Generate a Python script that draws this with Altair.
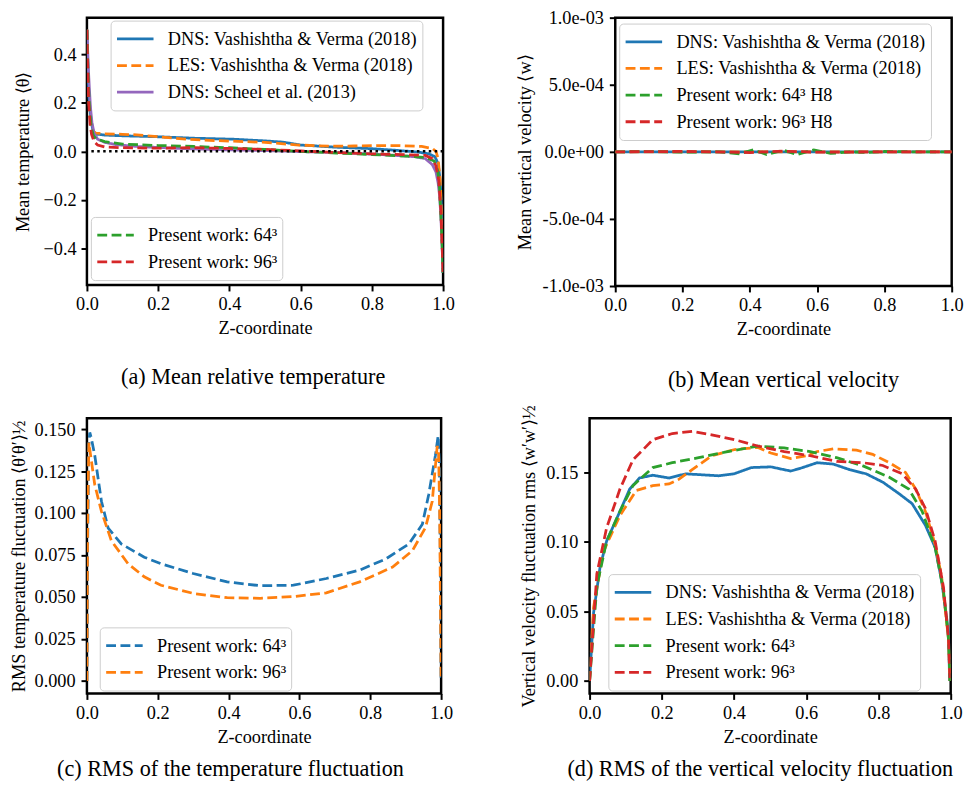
import altair as alt
import pandas as pd

FONT = "Liberation Serif"
FS = 18.5
LEG_FS = 18.5
CAP_FS = 22.5
LW = 2.8
DASH = [10, 4.5]
SOLID = [1, 0]
BLUE, ORANGE, GREEN, RED, PURPLE = "#1f77b4", "#ff7f0e", "#2ca02c", "#d62728", "#9467bd"

# ---------------- tick values / labels ----------------
x_ticks = [0.0, 0.2, 0.4, 0.6, 0.8, 1.0]
a_yticks = [-0.4, -0.2, 0.0, 0.2, 0.4]
b_yticks = [-1e-3, -5e-4, 0.0, 5e-4, 1e-3]
b_ylabels = ["-1.0e-03", "-5.0e-04", "0.0e+00", "5.0e-04", "1.0e-03"]
c_yticks = [0.0, 0.025, 0.05, 0.075, 0.1, 0.125, 0.15]
d_yticks = [0.0, 0.05, 0.10, 0.15]

# ---------------- series names ----------------
DNS = "DNS: Vashishtha & Verma (2018)"
LES = "LES: Vashishtha & Verma (2018)"
SCH = "DNS: Scheel et al. (2013)"
P64 = "Present work: 64³"
P96 = "Present work: 96³"
P64H = "Present work: 64³ H8"
P96H = "Present work: 96³ H8"

# ---------------- (a) mean temperature ----------------
a_dns_z = [0.0, 0.003, 0.006, 0.012, 0.018, 0.025, 0.05, 0.1, 0.2, 0.3, 0.41, 0.5, 0.55, 0.6, 0.7, 0.8, 0.87, 0.93, 0.96, 0.977, 0.986, 0.992, 0.996, 1.0]
a_dns_v = [0.5, 0.33, 0.22, 0.12, 0.08, 0.071, 0.067, 0.064, 0.06, 0.054, 0.05, 0.043, 0.038, 0.026, 0.017, 0.011, 0.004, -0.003, -0.01, -0.022, -0.05, -0.12, -0.25, -0.5]
a_les_z = [0.0, 0.003, 0.006, 0.01, 0.015, 0.025, 0.05, 0.1, 0.14, 0.2, 0.276, 0.367, 0.5, 0.595, 0.686, 0.75, 0.82, 0.87, 0.94, 0.97, 0.98, 0.986, 0.992, 0.996, 1.0]
a_les_v = [0.5, 0.3, 0.2, 0.12, 0.085, 0.075, 0.072, 0.07, 0.068, 0.06, 0.05, 0.044, 0.037, 0.026, 0.021, 0.022, 0.024, 0.024, 0.02, 0.012, 0.0, -0.03, -0.12, -0.28, -0.5]
a_sch_z = [0.0, 0.002, 0.004, 0.007, 0.01, 0.014, 0.02, 0.03, 0.05, 0.08, 0.14, 0.276, 0.4, 0.5, 0.6, 0.724, 0.86, 0.92, 0.95, 0.97, 0.98, 0.986, 0.99, 0.993, 0.996, 0.998, 1.0]
a_sch_v = [0.5, 0.42, 0.34, 0.255, 0.18, 0.12, 0.075, 0.05, 0.037, 0.028, 0.02, 0.011, 0.006, 0.003, -0.001, -0.006, -0.016, -0.022, -0.03, -0.055, -0.085, -0.13, -0.18, -0.25, -0.34, -0.42, -0.5]
a_p64_z = [0.0, 0.003, 0.007, 0.012, 0.018, 0.025, 0.05, 0.1, 0.2, 0.3, 0.4, 0.5, 0.6, 0.7, 0.8, 0.9, 0.95, 0.975, 0.985, 0.99, 0.995, 1.0]
a_p64_v = [0.5, 0.33, 0.18, 0.1, 0.065, 0.052, 0.04, 0.03, 0.024, 0.02, 0.015, 0.008, 0.0, -0.007, -0.013, -0.02, -0.025, -0.04, -0.08, -0.15, -0.3, -0.5]
a_p96_z = [0.0, 0.002, 0.005, 0.009, 0.013, 0.02, 0.03, 0.05, 0.1, 0.2, 0.3, 0.4, 0.5, 0.6, 0.7, 0.8, 0.9, 0.95, 0.97, 0.98, 0.988, 0.994, 1.0]
a_p96_v = [0.5, 0.35, 0.2, 0.11, 0.07, 0.04, 0.026, 0.018, 0.015, 0.013, 0.015, 0.012, 0.008, 0.002, -0.005, -0.01, -0.014, -0.017, -0.03, -0.06, -0.12, -0.25, -0.5]

# ---------------- (b) mean vertical velocity ----------------
b_dns_z = [0.0, 0.25, 0.5, 0.75, 1.0]
b_dns_v = [0.0, 0.0, 0.0, 0.0, 0.0]
b_les_z = [0.0, 0.25, 0.5, 0.75, 1.0]
b_les_v = [0.0, 0.0, 0.0, 0.0, 0.0]
b_p64_z = [0.0, 0.1, 0.2, 0.31, 0.37, 0.41, 0.45, 0.5, 0.54, 0.59, 0.64, 0.7, 0.75, 0.8, 0.9, 1.0]
b_p64_v = [0.0, 2e-6, -2e-6, 0.0, -1.5e-5, 1.5e-5, -2e-5, 1.2e-5, -2e-5, 1.5e-5, -1.2e-5, 0.0, -5e-6, 3e-6, 0.0, 0.0]
b_p96_z = [0.0, 0.2, 0.4, 0.5, 0.6, 0.8, 1.0]
b_p96_v = [0.0, 3e-6, -5e-6, 5e-6, -3e-6, 0.0, 0.0]

# ---------------- (c) rms temperature fluctuation ----------------
c_p64_z = [0.0, 0.002, 0.005, 0.008, 0.012, 0.022, 0.041, 0.06, 0.097, 0.162, 0.209, 0.30, 0.396, 0.489, 0.583, 0.676, 0.77, 0.844, 0.909, 0.947, 0.965, 0.984, 0.9916, 0.995, 0.998, 1.0]
c_p64_v = [0.0, 0.08, 0.14, 0.148, 0.145, 0.1345, 0.107, 0.091, 0.0816, 0.0737, 0.0698, 0.064, 0.059, 0.0567, 0.057, 0.061, 0.066, 0.0727, 0.0816, 0.0933, 0.111, 0.1345, 0.146, 0.13, 0.07, 0.0]
c_p96_z = [0.0, 0.002, 0.0056, 0.01, 0.022, 0.041, 0.069, 0.116, 0.162, 0.209, 0.303, 0.396, 0.489, 0.583, 0.676, 0.77, 0.863, 0.919, 0.956, 0.975, 0.989, 0.993, 0.996, 0.998, 1.0]
c_p96_v = [0.0, 0.1, 0.142, 0.135, 0.117, 0.101, 0.0835, 0.0698, 0.062, 0.057, 0.052, 0.0496, 0.0492, 0.0502, 0.0525, 0.059, 0.0678, 0.0776, 0.0914, 0.107, 0.140, 0.135, 0.1, 0.05, 0.0]

# ---------------- (d) rms vertical velocity fluctuation ----------------
d_dns_z = [0.0, 0.011, 0.029, 0.047, 0.084, 0.111, 0.138, 0.175, 0.22, 0.266, 0.357, 0.40, 0.448, 0.502, 0.557, 0.584, 0.63, 0.675, 0.72, 0.766, 0.812, 0.857, 0.893, 0.93, 0.957, 0.975, 0.994, 0.997]
d_dns_v = [0.0, 0.049, 0.082, 0.1005, 0.122, 0.138, 0.146, 0.148, 0.146, 0.149, 0.1476, 0.149, 0.1535, 0.154, 0.151, 0.153, 0.157, 0.156, 0.152, 0.149, 0.143, 0.1347, 0.1276, 0.112, 0.096, 0.072, 0.035, 0.0]
d_les_z = [0.0, 0.011, 0.038, 0.084, 0.129, 0.175, 0.22, 0.247, 0.284, 0.338, 0.402, 0.466, 0.502, 0.557, 0.602, 0.63, 0.675, 0.739, 0.784, 0.83, 0.875, 0.903, 0.93, 0.957, 0.975, 0.994, 0.998]
d_les_v = [0.0, 0.053, 0.093, 0.119, 0.137, 0.1405, 0.1417, 0.145, 0.152, 0.162, 0.1665, 0.168, 0.164, 0.160, 0.162, 0.165, 0.167, 0.166, 0.163, 0.157, 0.150, 0.138, 0.122, 0.098, 0.075, 0.030, 0.0]
d_p64_z = [0.0, 0.02, 0.047, 0.084, 0.12, 0.175, 0.229, 0.302, 0.375, 0.466, 0.539, 0.611, 0.684, 0.757, 0.83, 0.884, 0.921, 0.957, 0.98, 0.994, 0.998]
d_p64_v = [0.0, 0.068, 0.1005, 0.122, 0.1405, 0.1535, 0.157, 0.1606, 0.1646, 0.169, 0.1676, 0.165, 0.1606, 0.1547, 0.1465, 0.138, 0.122, 0.096, 0.065, 0.03, 0.0]
d_p96_z = [0.0, 0.02, 0.047, 0.084, 0.12, 0.175, 0.229, 0.284, 0.338, 0.402, 0.466, 0.539, 0.611, 0.684, 0.757, 0.812, 0.866, 0.903, 0.93, 0.957, 0.98, 0.994, 0.998]
d_p96_v = [0.0, 0.077, 0.11, 0.138, 0.159, 0.1735, 0.178, 0.1795, 0.177, 0.1735, 0.169, 0.165, 0.162, 0.158, 0.157, 0.155, 0.149, 0.138, 0.124, 0.1005, 0.0675, 0.03, 0.0]

# ---------------- captions ----------------
cap_a = "(a) Mean relative temperature"
cap_b = "(b) Mean vertical velocity"
cap_c = "(c) RMS of the temperature fluctuation"
cap_d = "(d) RMS of the vertical velocity fluctuation"

LEG_STYLE = dict(
    symbolType="stroke", symbolSize=1369, symbolStrokeWidth=LW,
    labelFont=FONT, labelFontSize=LEG_FS, labelColor="black", labelLimit=500,
    labelOffset=13, rowPadding=0, padding=5, clipHeight=27,
    fillColor="rgba(255,255,255,0.8)", strokeColor="#cccccc", cornerRadius=4,
)


def long(pairs):
    rows = []
    for name, zs, vs in pairs:
        for z, v in zip(zs, vs):
            rows.append({"z": z, "v": v, "series": name})
    return pd.DataFrame(rows)


def legend(x, y):
    return alt.Legend(title=None, orient="none", legendX=x, legendY=y, **LEG_STYLE)


def xenc():
    return alt.X(
        "z:Q", scale=alt.Scale(domain=[0, 1], nice=False, zero=False),
        axis=alt.Axis(values=x_ticks, format=".1f", title="Z-coordinate", labelFlush=False,
                      labelPadding=4, titlePadding=6, labelFont=FONT, titleFont=FONT),
    )


def yenc(domain, axis):
    return alt.Y("v:Q", scale=alt.Scale(domain=domain, nice=False, zero=False), axis=axis)


def lines(df, names, colors, dashes, leg, y):
    return alt.Chart(df).mark_line(strokeWidth=LW, clip=True).encode(
        x=xenc(), y=y,
        color=alt.Color("series:N", scale=alt.Scale(domain=names, range=colors), legend=leg),
        strokeDash=alt.StrokeDash("series:N", scale=alt.Scale(domain=names, range=dashes), legend=leg),
    )


def caption(text, dx, offset):
    return alt.TitleParams(text=text, orient="bottom", anchor="middle", frame="group", dx=dx,
                           offset=offset, font=FONT, fontSize=CAP_FS, fontWeight="normal", color="black")


IND = dict(color="independent", strokeDash="independent")

# ---- panel a ----
ya = yenc([-0.55, 0.55], alt.Axis(values=a_yticks, format=".1f", title="Mean temperature ⟨θ⟩",
                                   minExtent=47, maxExtent=47, labelPadding=5, titlePadding=8,
                                   labelFont=FONT, titleFont=FONT))
a_ref = lines(long([(DNS, a_dns_z, a_dns_v), (LES, a_les_z, a_les_v), (SCH, a_sch_z, a_sch_v)]),
              [DNS, LES, SCH], [BLUE, ORANGE, PURPLE], [SOLID, DASH, SOLID], legend(24, 3), ya)
a_pw = lines(long([(P64, a_p64_z, a_p64_v), (P96, a_p96_z, a_p96_v)]),
             [P64, P96], [GREEN, RED], [DASH, DASH], legend(4, 202), ya)
a_zero = alt.Chart(pd.DataFrame({"v": [0.0]})).mark_rule(color="black", strokeWidth=2.5, strokeDash=[2.5, 3.5]).encode(y="v:Q")
panel_a = alt.layer(a_ref, a_pw, a_zero).resolve_scale(**IND).properties(
    width=361, height=271, title=caption(cap_a, -12, 29))

# ---- panel b ----
b_expr = " : ".join(f"abs(datum.value - ({v})) < 1e-12 ? '{l}'" for v, l in zip(b_yticks, b_ylabels)) + " : ''"
yb = yenc([-1e-3, 1e-3], alt.Axis(values=b_yticks, labelExpr=b_expr, title="Mean vertical velocity ⟨w⟩",
                                   minExtent=73, maxExtent=73, labelPadding=6, titlePadding=9,
                                   labelFont=FONT, titleFont=FONT))
panel_b = lines(long([(DNS, b_dns_z, b_dns_v), (LES, b_les_z, b_les_v), (P64H, b_p64_z, b_p64_v), (P96H, b_p96_z, b_p96_v)]),
                [DNS, LES, P64H, P96H], [BLUE, ORANGE, GREEN, RED], [SOLID, DASH, DASH, DASH], legend(4, 6), yb).properties(
    width=341, height=272, title=caption(cap_b, 0, 31))

# ---- panel c ----
yc = yenc([-0.0075, 0.1565], alt.Axis(values=c_yticks, format=".3f", title="RMS temperature fluctuation ⟨θ′θ′⟩½",
                                       minExtent=52, maxExtent=52, labelPadding=6, titlePadding=7,
                                       labelFont=FONT, titleFont=FONT))
panel_c = lines(long([(P64, c_p64_z, c_p64_v), (P96, c_p96_z, c_p96_v)]),
                [P64, P96], [BLUE, ORANGE], [DASH, DASH], legend(13, 212), yc).properties(
    width=359, height=279, title=caption(cap_c, -34, 13))

# ---- panel d ----
yd = yenc([-0.009, 0.189], alt.Axis(values=d_yticks, format=".2f", title="Vertical velocity fluctuation rms ⟨w′w′⟩½",
                                     minExtent=44, maxExtent=44, labelPadding=6, titlePadding=8,
                                     labelFont=FONT, titleFont=FONT))
panel_d = lines(long([(DNS, d_dns_z, d_dns_v), (LES, d_les_z, d_les_v), (P64, d_p64_z, d_p64_v), (P96, d_p96_z, d_p96_v)]),
                [DNS, LES, P64, P96], [BLUE, ORANGE, GREEN, RED], [SOLID, DASH, DASH, DASH], legend(19, 158), yd).properties(
    width=366, height=279, title=caption(cap_d, -10, 13))

row1 = alt.hconcat(panel_a, panel_b, spacing=58.5, bounds="full").resolve_scale(**IND)
row2 = alt.hconcat(panel_c, panel_d, spacing=150.5, bounds="flush").resolve_scale(**IND)

chart = alt.vconcat(row1, row2, spacing=11, bounds="full").resolve_scale(**IND).properties(
    padding={"left": 0, "top": -6.5, "right": 0, "bottom": 0}
).configure(font=FONT).configure_view(stroke="black", strokeWidth=2.5).configure_axis(
    grid=False, domain=False, labelFont=FONT, labelFontSize=FS, labelColor="black",
    titleFont=FONT, titleFontSize=FS, titleFontWeight="normal", titleColor="black",
    tickColor="black", tickWidth=2, tickSize=6,
).configure_legend(**LEG_STYLE)

chart.save("out.html", embed_options={"renderer": "svg", "actions": False})
